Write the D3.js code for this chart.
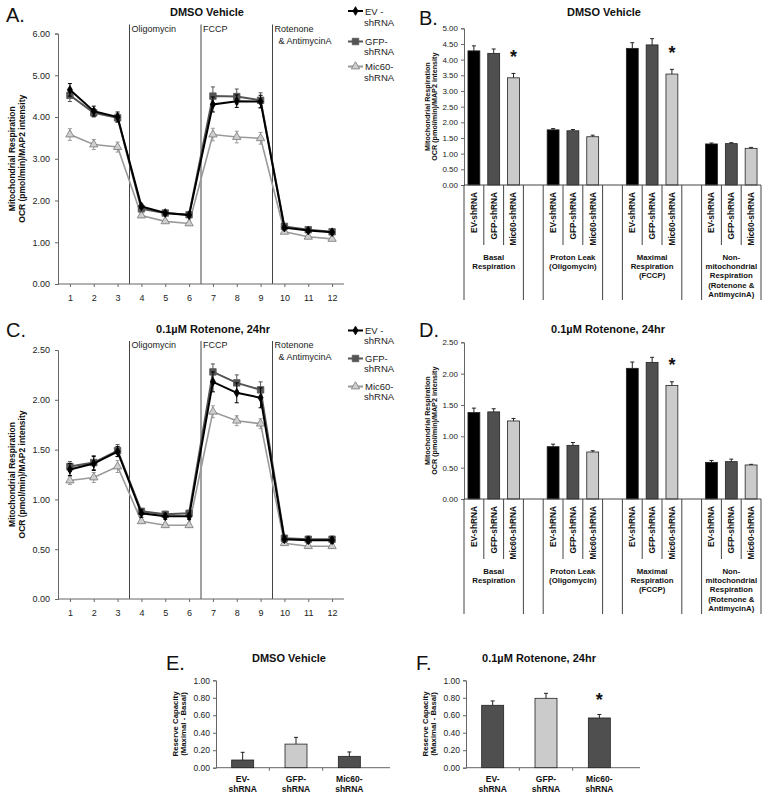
<!DOCTYPE html>
<html><head><meta charset="utf-8">
<script src="https://cdn.jsdelivr.net/npm/d3@7"></script>
<style>body{margin:0;background:#fff} svg{display:block} text{font-family:Arial,"Liberation Sans",sans-serif}</style>
</head><body><svg id="c" width="770" height="799"></svg>
<script>
// ---------------- DATA ----------------
const timepoints = [1,2,3,4,5,6,7,8,9,10,11,12];
const seriesNames = ["EV-shRNA","GFP-shRNA","Mic60-shRNA"];
const legendLabels = [["EV -","shRNA"],["GFP-","shRNA"],["Mic60-","shRNA"]];
const injectionAt = [3.5, 6.5, 9.5];
const injectionLabels = [["Oligomycin"],["FCCP"],["Rotenone","& AntimycinA"]];

// Panel A: DMSO vehicle OCR time course
const dmsoEV     = [4.65,4.14,4.00,1.86,1.70,1.65,4.30,4.38,4.37,1.35,1.28,1.24];
const dmsoEVErr  = [0.15,0.12,0.12,0.05,0.04,0.04,0.18,0.15,0.15,0.05,0.04,0.04];
const dmsoGFP    = [4.52,4.10,3.98,1.80,1.70,1.66,4.50,4.49,4.40,1.38,1.30,1.25];
const dmsoGFPErr = [0.15,0.10,0.10,0.05,0.04,0.04,0.22,0.18,0.18,0.05,0.04,0.04];
const dmsoMic    = [3.58,3.34,3.28,1.64,1.50,1.45,3.58,3.52,3.49,1.25,1.13,1.08];
const dmsoMicErr = [0.14,0.12,0.12,0.05,0.04,0.04,0.15,0.14,0.14,0.04,0.04,0.04];
const yTicksA = [0,1,2,3,4,5,6];

// Panel C: 0.1uM Rotenone OCR time course
const rotEV     = [1.30,1.36,1.48,0.86,0.83,0.83,2.18,2.07,2.02,0.60,0.59,0.59];
const rotEVErr  = [0.06,0.07,0.05,0.04,0.03,0.03,0.10,0.10,0.10,0.03,0.03,0.03];
const rotGFP    = [1.33,1.37,1.49,0.88,0.85,0.86,2.28,2.17,2.10,0.61,0.60,0.60];
const rotGFPErr = [0.05,0.07,0.06,0.03,0.03,0.03,0.08,0.08,0.08,0.03,0.03,0.03];
const rotMic    = [1.19,1.22,1.33,0.78,0.74,0.74,1.88,1.79,1.76,0.56,0.53,0.53];
const rotMicErr = [0.04,0.05,0.06,0.02,0.02,0.02,0.06,0.05,0.05,0.02,0.02,0.02];
const yTicksC = [0,0.5,1,1.5,2,2.5];

// Panels B / D: respiration parameters
const paramGroups = [["Basal","Respiration"],["Proton Leak","(Oligomycin)"],["Maximal","Respiration","(FCCP)"],["Non-","mitochondrial","Respiration","(Rotenone &","AntimycinA)"]];
const dmsoParamEV     = [4.28,1.76,4.36,1.31];
const dmsoParamEVErr  = [0.16,0.04,0.18,0.03];
const dmsoParamGFP    = [4.20,1.73,4.47,1.32];
const dmsoParamGFPErr = [0.14,0.04,0.20,0.03];
const dmsoParamMic    = [3.42,1.54,3.54,1.17];
const dmsoParamMicErr = [0.14,0.05,0.15,0.03];
const dmsoParamSig    = [true,false,true,false];
const yTicksB = [0,0.5,1,1.5,2,2.5,3,3.5,4,4.5,5];

const rotParamEV     = [1.38,0.835,2.085,0.585];
const rotParamEVErr  = [0.07,0.04,0.10,0.03];
const rotParamGFP    = [1.39,0.856,2.18,0.596];
const rotParamGFPErr = [0.05,0.045,0.08,0.04];
const rotParamMic    = [1.245,0.75,1.81,0.543];
const rotParamMicErr = [0.04,0.02,0.06,0.01];
const rotParamSig    = [false,false,true,false];
const yTicksD = [0,0.5,1,1.5,2,2.5];

// Panels E / F: reserve capacity
const reserveLabels = [["EV-","shRNA"],["GFP-","shRNA"],["Mic60-","shRNA"]];
const dmsoReserve    = [0.088,0.27,0.13];
const dmsoReserveErr = [0.088,0.077,0.05];
const dmsoReserveSig = [false,false,false];
const rotReserve     = [0.714,0.794,0.569];
const rotReserveErr  = [0.05,0.057,0.04];
const rotReserveSig  = [false,false,true];
const yTicksE = [0,0.2,0.4,0.6,0.8,1.0];

// ---------------- STYLE ----------------
const svg = d3.select("#c");
const AX = "#666", TXT = "#222";
const lineColors = ["#000000","#555555","#9a9a9a"];
const markerFill = ["#000000","#555555","#cfcfcf"];
const markerSym = [d3.symbolDiamond, d3.symbolSquare, d3.symbolTriangle];
const markerSize = [22, 42, 30];
const barFill = ["#000000","#4f4f4f","#cbcbcb"];
const reserveFill = ["#4f4f4f","#cbcbcb","#4f4f4f"];
const fmt = d3.format(".2f");

function styleAxis(g, fs) {
  g.select(".domain").attr("stroke", AX);
  g.selectAll(".tick line").attr("stroke", AX);
  g.selectAll(".tick text").attr("fill", TXT).style("font-size", fs + "px").style("font-family", "Arial, 'Liberation Sans', sans-serif");
}
function letter(t, x, y) {
  svg.append("text").attr("x", x).attr("y", y).text(t).style("font-size", "20px").attr("fill", "#111");
}
function title(t, x, y) {
  svg.append("text").attr("x", x).attr("y", y).attr("text-anchor", "middle").text(t)
    .style("font-size", "11px").style("font-weight", "bold").attr("fill", "#111");
}
function yLabel(lines, xs, cy, fs) {
  lines.forEach((l, i) => {
    svg.append("text").attr("transform", `translate(${xs[i]},${cy}) rotate(-90)`)
      .attr("text-anchor", "middle").attr("dy", "0.35em").text(l)
      .style("font-size", fs + "px").style("font-weight", "bold").attr("fill", "#111");
  });
}
function star(x, y) {
  svg.append("text").attr("x", x).attr("y", y + 9.5).attr("text-anchor", "middle").text("*")
    .style("font-size", "18px").style("font-weight", "bold").attr("fill", "#111");
}

// ---------------- LINE PANELS ----------------
function linePanel(o) {
  const x = d3.scaleLinear().domain([0.5, 12.5]).range([58, 344]);
  const y = d3.scaleLinear().domain([0, o.yMax]).range([o.yBot, o.yTop]);
  const g = svg.append("g");
  injectionAt.forEach((a, i) => {
    g.append("line").attr("x1", x(a)).attr("x2", x(a)).attr("y1", o.yTop - 9).attr("y2", o.yBot)
      .attr("stroke", "#444").attr("stroke-width", 1);
    injectionLabels[i].forEach((t, j) => {
      g.append("text").attr("x", x(a) + 2 + (j ? 4 : 0)).attr("y", o.yTop - 2 + j * 12).text(t)
        .style("font-size", "9px").attr("fill", TXT);
    });
  });
  const ya = g.append("g").attr("transform", "translate(58,0)")
    .call(d3.axisLeft(y).tickValues(o.yTicks).tickFormat(fmt).tickSize(3).tickPadding(5));
  styleAxis(ya, 9);
  const xa = g.append("g").attr("transform", `translate(0,${o.yBot})`)
    .call(d3.axisBottom(x).tickValues(timepoints).tickFormat(d3.format("d")).tickSize(3).tickPadding(8));
  styleAxis(xa, 9);
  xa.select(".domain").attr("d", `M58,0H344`);
  [2, 1, 0].forEach(s => {
    const vals = o.series[s], errs = o.errs[s];
    const col = lineColors[s];
    const line = d3.line().x((d, i) => x(timepoints[i])).y(d => y(d));
    g.append("path").datum(vals).attr("d", line).attr("fill", "none").attr("stroke", col)
      .attr("stroke-width", s === 2 ? 1.6 : 2);
    vals.forEach((v, i) => {
      const cx = x(timepoints[i]);
      g.append("line").attr("x1", cx).attr("x2", cx).attr("y1", y(v - errs[i])).attr("y2", y(v + errs[i]))
        .attr("stroke", col).attr("stroke-width", 1);
      [v - errs[i], v + errs[i]].forEach(e => g.append("line").attr("x1", cx - 2).attr("x2", cx + 2)
        .attr("y1", y(e)).attr("y2", y(e)).attr("stroke", col).attr("stroke-width", 1));
      g.append("path").attr("d", d3.symbol().type(markerSym[s]).size(markerSize[s])())
        .attr("transform", `translate(${cx},${y(v)})`).attr("fill", markerFill[s])
        .attr("stroke", s === 2 ? "#777" : col).attr("stroke-width", 0.8);
    });
  });
  o.legY.forEach((ly, s) => {
    g.append("line").attr("x1", 348).attr("x2", 363).attr("y1", ly).attr("y2", ly)
      .attr("stroke", lineColors[s]).attr("stroke-width", 2);
    g.append("path").attr("d", d3.symbol().type(markerSym[s]).size(markerSize[s])())
      .attr("transform", `translate(355.5,${ly})`).attr("fill", markerFill[s])
      .attr("stroke", s === 2 ? "#777" : lineColors[s]).attr("stroke-width", 0.8);
    legendLabels[s].forEach((t, j) => {
      g.append("text").attr("x", j ? 364 : 365).attr("y", ly + 3.5 + j * o.legLine[s]).text(t)
        .style("font-size", "9.5px").attr("fill", TXT);
    });
  });
  title(o.title, o.titleX, o.titleY);
  letter(o.letter, 6, o.letterY);
  yLabel(["Mitochondrial Respiration", "OCR (pmol/min)/MAP2 intensity"], [12, 22.5], (o.yTop + o.yBot) / 2, 8.5);
}

linePanel({yTop: 33.5, yBot: 284, yMax: 6, yTicks: yTicksA,
  series: [dmsoEV, dmsoGFP, dmsoMic], errs: [dmsoEVErr, dmsoGFPErr, dmsoMicErr],
  legY: [11, 41.5, 66.5], legLine: [11, 10, 11], title: "DMSO Vehicle", titleX: 207, titleY: 16, letter: "A.", letterY: 22});
linePanel({yTop: 350, yBot: 599, yMax: 2.5, yTicks: yTicksC,
  series: [rotEV, rotGFP, rotMic], errs: [rotEVErr, rotGFPErr, rotMicErr],
  legY: [330.5, 358.5, 386.5], legLine: [9.5, 9.5, 9.5], title: "0.1\u00B5M Rotenone, 24hr", titleX: 213, titleY: 333, letter: "C.", letterY: 337});

// ---------------- GROUPED BAR PANELS ----------------
function barPanel(o) {
  const slots = [];
  paramGroups.forEach((gname, gi) => {
    seriesNames.forEach(s => slots.push(gi + "|" + s));
    if (gi < paramGroups.length - 1) slots.push("gap" + gi);
  });
  const x = d3.scaleBand().domain(slots).range([464, 761]).padding(0);
  const y = d3.scaleLinear().domain([0, o.yMax]).range([o.yBot, o.yTop]);
  const g = svg.append("g");
  const ya = g.append("g").attr("transform", "translate(464,0)")
    .call(d3.axisLeft(y).tickValues(o.yTicks).tickFormat(fmt).tickSize(3).tickPadding(3));
  styleAxis(ya, 8);
  const bw = x.bandwidth() * 0.6;
  paramGroups.forEach((gname, gi) => {
    o.vals.forEach((arr, s) => {
      const key = gi + "|" + seriesNames[s];
      const cx = x(key) + x.bandwidth() / 2;
      const v = arr[gi], e = o.errs[s][gi];
      g.append("rect").attr("x", cx - bw / 2).attr("y", y(v)).attr("width", bw).attr("height", y(0) - y(v))
        .attr("fill", barFill[s]).attr("stroke", "#222").attr("stroke-width", 0.8);
      g.append("line").attr("x1", cx).attr("x2", cx).attr("y1", y(v)).attr("y2", y(v + e)).attr("stroke", "#222");
      g.append("line").attr("x1", cx - 2).attr("x2", cx + 2).attr("y1", y(v + e)).attr("y2", y(v + e)).attr("stroke", "#222");
      g.append("text").attr("transform", `translate(${cx},${o.yBot + 7}) rotate(-90)`)
        .attr("text-anchor", "end").attr("dy", "0.35em").text(seriesNames[s])
        .style("font-size", "8.3px").style("font-weight", "bold").attr("fill", "#111");
      if (s === 2 && o.sig[gi]) star(cx, y(v + e) - 20);
    });
    const gx0 = x(gi + "|" + seriesNames[0]);
    const gx3 = x(gi + "|" + seriesNames[2]) + x.bandwidth();
    [gx0, gx3].forEach(sx => g.append("line").attr("x1", sx).attr("x2", sx).attr("y1", o.yBot).attr("y2", o.yBot + 115)
      .attr("stroke", "#444"));
    [1, 2].forEach(k => {
      const sx = x(gi + "|" + seriesNames[k]);
      g.append("line").attr("x1", sx).attr("x2", sx).attr("y1", o.yBot).attr("y2", o.yBot + 60).attr("stroke", "#444");
    });
    gname.forEach((t, j) => {
      g.append("text").attr("x", (gx0 + gx3) / 2).attr("y", o.yBot + 75 + j * 9.2).attr("text-anchor", "middle")
        .text(t).style("font-size", "7.8px").style("font-weight", "bold").attr("fill", "#111");
    });
  });
  g.append("line").attr("x1", 464).attr("x2", 761).attr("y1", o.yBot).attr("y2", o.yBot).attr("stroke", "#444");
  title(o.title, o.titleX, o.titleY);
  letter(o.letter, 419, o.letterY);
  yLabel(["Mitochondrial Respiration", "OCR (pmol/min)/MAP2 intensity"], [427, 434.5], (o.yTop + o.yBot) / 2, 7.2);
}

barPanel({yTop: 28.3, yBot: 185, yMax: 5, yTicks: yTicksB,
  vals: [dmsoParamEV, dmsoParamGFP, dmsoParamMic], errs: [dmsoParamEVErr, dmsoParamGFPErr, dmsoParamMicErr],
  sig: dmsoParamSig, title: "DMSO Vehicle", titleX: 604, titleY: 16, letter: "B.", letterY: 25});
barPanel({yTop: 342.3, yBot: 499, yMax: 2.5, yTicks: yTicksD,
  vals: [rotParamEV, rotParamGFP, rotParamMic], errs: [rotParamEVErr, rotParamGFPErr, rotParamMicErr],
  sig: rotParamSig, title: "0.1\u00B5M Rotenone, 24hr", titleX: 608, titleY: 333, letter: "D.", letterY: 337});

// ---------------- RESERVE CAPACITY PANELS ----------------
function reservePanel(o) {
  const x = d3.scaleBand().domain(seriesNames).range([o.x0, o.x0 + 160]).padding(0);
  const y = d3.scaleLinear().domain([0, 1]).range([767.7, 680.3]);
  const g = svg.append("g");
  const ya = g.append("g").attr("transform", `translate(${o.x0},0)`)
    .call(d3.axisLeft(y).tickValues(yTicksE).tickFormat(fmt).tickSize(3).tickPadding(3));
  styleAxis(ya, 8.5);
  g.append("line").attr("x1", o.x0).attr("x2", o.x0 + 174).attr("y1", y(0)).attr("y2", y(0)).attr("stroke", AX);
  seriesNames.forEach((s, i) => {
    const bx = x(s), cx = bx + x.bandwidth() / 2;
    if (i > 0) g.append("line").attr("x1", bx).attr("x2", bx).attr("y1", y(0)).attr("y2", y(0) + 3).attr("stroke", AX);
    const v = o.vals[i], e = o.errs[i];
    g.append("rect").attr("x", cx - 11).attr("y", y(v)).attr("width", 22).attr("height", y(0) - y(v))
      .attr("fill", reserveFill[i]).attr("stroke", "#222").attr("stroke-width", 0.8);
    g.append("line").attr("x1", cx).attr("x2", cx).attr("y1", y(v)).attr("y2", y(v + e)).attr("stroke", "#222");
    g.append("line").attr("x1", cx - 2).attr("x2", cx + 2).attr("y1", y(v + e)).attr("y2", y(v + e)).attr("stroke", "#222");
    reserveLabels[i].forEach((t, j) => g.append("text").attr("x", cx).attr("y", 782 + j * 9.5).attr("text-anchor", "middle")
      .text(t).style("font-size", "8.5px").style("font-weight", "bold").attr("fill", "#111"));
    if (o.sig[i]) star(cx, y(v + e) - 17.5);
  });
  title(o.title, o.titleX, 662);
  letter(o.letter, o.letterX, 670);
  yLabel(["Reserve Capacity", "(Maximal - Basal)"], [o.x0 - 41, o.x0 - 33], 724, 7.8);
}
reservePanel({x0: 216, vals: dmsoReserve, errs: dmsoReserveErr, sig: dmsoReserveSig,
  title: "DMSO Vehicle", titleX: 289, letter: "E.", letterX: 166});
reservePanel({x0: 466, vals: rotReserve, errs: rotReserveErr, sig: rotReserveSig,
  title: "0.1\u00B5M Rotenone, 24hr", titleX: 539, letter: "F.", letterX: 416});
</script></body></html>
